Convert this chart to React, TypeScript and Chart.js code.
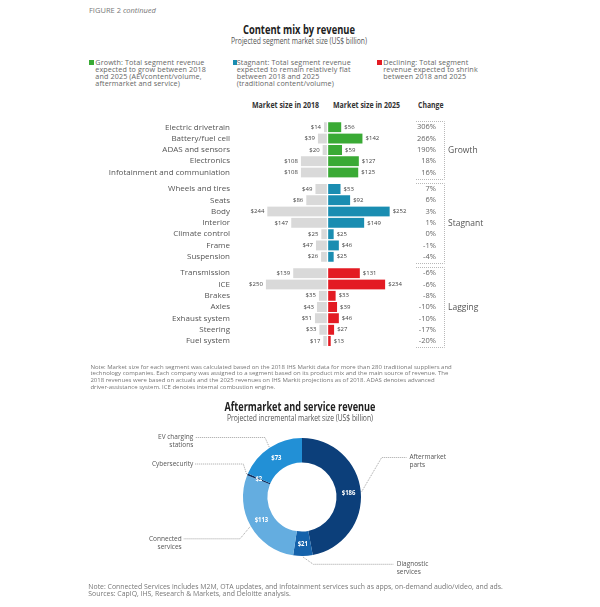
import React, { useEffect, useRef } from "react";
import { Chart, registerables } from "chart.js";
Chart.register(...registerables);

// ---------- DATA ----------
const categories = [
  "Electric drivetrain", "Battery/fuel cell", "ADAS and sensors", "Electronics", "Infotainment and communiation",
  "Wheels and tires", "Seats", "Body", "Interior", "Climate control", "Frame", "Suspension",
  "Transmission", "ICE", "Brakes", "Axles", "Exhaust system", "Steering", "Fuel system",
];
const rowGroup = [0, 0, 0, 0, 0, 1, 1, 1, 1, 1, 1, 1, 2, 2, 2, 2, 2, 2, 2];
const size2018 = [14, 39, 20, 108, 108, 49, 86, 244, 147, 25, 47, 26, 139, 250, 35, 43, 51, 33, 17];
const size2025 = [56, 142, 59, 127, 125, 53, 92, 252, 149, 25, 46, 25, 131, 234, 33, 39, 46, 27, 13];
const changePct = [306, 266, 190, 18, 16, 7, 6, 3, 1, 0, -1, -4, -6, -6, -8, -10, -10, -17, -20];
const groupNames = ["Growth", "Stagnant", "Lagging"];
const groupColors = ["#3aaa35", "#1a8db1", "#e31b23"];
const barGray = "#d9d9d9";

const legendTexts = [
  ["Growth: Total segment revenue", "expected to grow between 2018", "and 2025 (AEVcontent/volume,", "aftermarket and service)"],
  ["Stagnant: Total segment revenue", "expected to remain relatively flat", "between 2018 and 2025", "(traditional content/volume)"],
  ["Declining: Total segment", "revenue expected to shrink", "between 2018 and 2025"],
];
const columnHeaders = ["Market size in 2018", "Market size in 2025", "Change"];

const serviceLabels = [["Aftermarket", "parts"], ["Diagnostic", "services"], ["Connected", "services"], ["Cybersecurity"], ["EV charging", "stations"]];
const serviceValues = [186, 21, 113, 2, 73];
const serviceColors = ["#0c3f7a", "#1462ab", "#64ade0", "#0b2a5c", "#2290d6"];

const note1 = [
  "Note: Market size for each segment was calculated based on the 2018 IHS Markit data for more than 280 traditional suppliers and",
  "technology companies. Each company was assigned to a segment based on its product mix and the main source of revenue. The",
  "2018 revenues were based on actuals and the 2025 revenues on IHS Markit  projections as of 2018. ADAS denotes advanced",
  "driver-assistance system. ICE denotes internal combustion engine.",
];
const note2 = [
  "Note: Connected Services includes M2M, OTA updates, and infotainment services such as apps, on-demand audio/video, and ads.",
  "Sources: CapIQ, IHS, Research & Markets, and Deloitte analysis.",
];

// ---------- LAYOUT ----------
const GROUP_GAP = 0.455;
const rowPos = categories.map((_, i) => i + rowGroup[i] * GROUP_GAP);
const SANS = '"Open Sans", "Noto Sans", sans-serif';

const BAR_TOP = 110;
const BAR_H = 262;
const BAR_PAD_BOTTOM = 3;
const ROW_PX = 11.3;
const Y_MIN = -1.53;
const Y_MAX = Y_MIN + (BAR_H - BAR_PAD_BOTTOM) / ROW_PX;
const LABEL_RIGHT = 230;
const CHANGE_RIGHT = 436;
const BOX_L = 416;
const BOX_R = 444;
const GROUP_X = 448;

const DN_LEFT = 130;
const DN_TOP = 425;
const DN_W = 340;
const DN_H = 160;
const DN_CX = 302;
const DN_CY = 497;
const DN_R = 59;

const callouts = [
  { elbow: [381.7, 457.5], end: 406.7, textX: 409.5, align: "left" },
  { elbow: [313.3, 564.3], end: 393.3, textX: 396.7, align: "left" },
  { elbow: [240, 538.8], end: 183.3, textX: 181.7, align: "right" },
  { elbow: [243.3, 464], end: 195, textX: 193.3, align: "right" },
  { elbow: [265, 437.5], end: 195, textX: 193.3, align: "right" },
];

let measureCtx: CanvasRenderingContext2D | null = null;
function measureText(text: string, font: string) {
  if (!measureCtx) measureCtx = document.createElement("canvas").getContext("2d");
  measureCtx!.font = font;
  return measureCtx!.measureText(text).width;
}

const barLabelsPlugin = {
  id: "barLabels",
  afterDatasetsDraw(chart: any) {
    const ctx = chart.ctx;
    const xs = chart.scales.x;
    const ys = chart.scales.y;
    ctx.save();
    ctx.textBaseline = "middle";
    categories.forEach((cat, i) => {
      const y = ys.getPixelForValue(rowPos[i]);
      ctx.font = `8px ${SANS}`;
      ctx.fillStyle = "#555";
      ctx.textAlign = "right";
      ctx.fillText(cat, LABEL_RIGHT, y);
      ctx.font = `6px ${SANS}`;
      ctx.fillStyle = "#444";
      ctx.fillText("$" + size2018[i], xs.getPixelForValue(-size2018[i]) - 3, y);
      ctx.textAlign = "left";
      ctx.fillText("$" + size2025[i], xs.getPixelForValue(size2025[i]) + 3, y);
      ctx.textAlign = "right";
      ctx.font = `7.5px ${SANS}`;
      ctx.fillStyle = "#666";
      ctx.fillText(changePct[i] + "%", CHANGE_RIGHT, y);
    });
    groupNames.forEach((g, gi) => {
      const idx = rowGroup.map((v, i) => (v === gi ? i : -1)).filter((i) => i >= 0);
      const top = Math.round(ys.getPixelForValue(rowPos[idx[0]]) - 6.3) + 0.5;
      const bottom = Math.round(ys.getPixelForValue(rowPos[idx[idx.length - 1]]) + 6.3) + 0.5;
      ctx.setLineDash([1, 1]);
      ctx.strokeStyle = "#b8b8b8";
      ctx.lineWidth = 1;
      ctx.beginPath();
      ctx.moveTo(BOX_L, top);
      ctx.lineTo(BOX_R + 0.5, top);
      ctx.lineTo(BOX_R + 0.5, bottom);
      ctx.lineTo(BOX_L, bottom);
      ctx.stroke();
      ctx.setLineDash([]);
      ctx.font = `8.5px ${SANS}`;
      ctx.fillStyle = "#555";
      ctx.textAlign = "left";
      ctx.fillText(g, GROUP_X, (top + bottom) / 2);
    });
    ctx.restore();
  },
};

const donutLabelsPlugin = {
  id: "donutLabels",
  afterDatasetsDraw(chart: any) {
    const ctx = chart.ctx;
    const meta = chart.getDatasetMeta(0);
    ctx.save();
    meta.data.forEach((arc: any, i: number) => {
      const p = arc.getProps(["x", "y", "startAngle", "endAngle", "innerRadius", "outerRadius"], true);
      const mid = (p.startAngle + p.endAngle) / 2;
      const rm = (p.innerRadius + p.outerRadius) / 2;
      ctx.font = `bold 7px ${SANS}`;
      ctx.fillStyle = "#fff";
      ctx.textAlign = "center";
      ctx.textBaseline = "middle";
      const label = "$" + serviceValues[i];
      const lx = p.x + Math.cos(mid) * rm;
      const ly = p.y + Math.sin(mid) * rm;
      ctx.save();
      ctx.translate(lx, ly);
      ctx.scale(0.85, 1);
      ctx.fillText(label, 0, 0);
      ctx.restore();
      const c = callouts[i];
      const ax = p.x + Math.cos(mid) * (p.outerRadius + 1);
      const ay = p.y + Math.sin(mid) * (p.outerRadius + 1);
      const ex = c.elbow[0] - DN_LEFT;
      const ey = c.elbow[1] - DN_TOP;
      const endX = c.end - DN_LEFT;
      ctx.strokeStyle = "#8c8c8c";
      ctx.lineWidth = 0.8;
      ctx.setLineDash([1, 1]);
      ctx.beginPath();
      ctx.moveTo(ax, ay);
      ctx.lineTo(ex, ey);
      ctx.lineTo(endX, ey);
      ctx.stroke();
      ctx.setLineDash([]);
      ctx.font = `6.5px ${SANS}`;
      ctx.fillStyle = "#555";
      ctx.textAlign = c.align as CanvasTextAlign;
      serviceLabels[i].forEach((line, k) => {
        ctx.fillText(line, c.textX - DN_LEFT, ey + k * 8);
      });
    });
    ctx.restore();
  },
};

function Txt(props: any) {
  const { x, y, size, children, align = "left", weight = 400, color = "#555", lh = 10, fit } = props;
  const style: any = {
    position: "absolute",
    top: y - lh / 2,
    fontSize: size,
    lineHeight: lh + "px",
    fontFamily: SANS,
    fontWeight: weight,
    color,
    whiteSpace: "nowrap",
  };
  if (align === "left") style.left = x;
  else if (align === "right") style.right = 600 - x;
  else {
    style.left = x - 250;
    style.width = 500;
    style.textAlign = "center";
  }
  if (fit && typeof children === "string") {
    const w = measureText(children, `${weight} ${size}px ${SANS}`);
    if (w > 0) {
      style.transform = `scaleX(${fit / w})`;
      style.transformOrigin = align === "center" ? "50% 50%" : align === "right" ? "100% 50%" : "0% 50%";
    }
  }
  return <div style={style}>{children}</div>;
}

export default function App() {
  const barRef = useRef<HTMLCanvasElement>(null);
  const donutRef = useRef<HTMLCanvasElement>(null);

  useEffect(() => {
    const barChart = new Chart(barRef.current as HTMLCanvasElement, {
      type: "bar",
      data: {
        datasets: [
          {
            label: "Market size in 2018",
            data: size2018.map((v, i) => ({ x: -v, y: rowPos[i] })) as any,
            backgroundColor: barGray,
            borderColor: "#ffffff",
            borderWidth: { top: 0, bottom: 0, left: 0, right: 1 } as any,
            borderSkipped: false,
            grouped: false,
            barThickness: 10,
          },
          {
            label: "Market size in 2025",
            data: size2025.map((v, i) => ({ x: v, y: rowPos[i] })) as any,
            backgroundColor: rowGroup.map((g) => groupColors[g]),
            borderColor: "#ffffff",
            borderWidth: { top: 0, bottom: 0, left: 1, right: 0 } as any,
            borderSkipped: false,
            grouped: false,
            barThickness: 10,
          },
        ],
      },
      options: {
        indexAxis: "y",
        animation: false,
        responsive: false,
        maintainAspectRatio: false,
        layout: { padding: { left: 253.5, right: 198.5, top: 0, bottom: BAR_PAD_BOTTOM } },
        scales: {
          x: { type: "linear", min: -300, max: 300, display: false, offset: false },
          y: { type: "linear", min: Y_MIN, max: Y_MAX, reverse: true, display: false, offset: false },
        },
        plugins: { legend: { display: false }, tooltip: { enabled: false } },
      } as any,
      plugins: [barLabelsPlugin],
    });

    const padL = DN_CX - DN_LEFT - DN_R;
    const padT = DN_CY - DN_TOP - DN_R;
    const donutChart = new Chart(donutRef.current as HTMLCanvasElement, {
      type: "doughnut",
      data: {
        labels: serviceLabels.map((l) => l.join(" ")),
        datasets: [{ data: serviceValues, backgroundColor: serviceColors, borderWidth: 0 }],
      },
      options: {
        animation: false,
        responsive: false,
        maintainAspectRatio: false,
        cutout: "58.5%",
        layout: {
          padding: { left: padL, top: padT, right: DN_W - padL - 2 * DN_R, bottom: DN_H - padT - 2 * DN_R },
        },
        plugins: { legend: { display: false }, tooltip: { enabled: false } },
      } as any,
      plugins: [donutLabelsPlugin],
    });

    return () => {
      barChart.destroy();
      donutChart.destroy();
    };
  }, []);

  const legendX = [[89.3, 95.3], [232.7, 236.7], [377.3, 383.3]];
  const headerX = [251.7, 332.7, 418];
  const headerW = [67, 67, 25.5];

  return (
    <div style={{ position: "fixed", left: 0, top: 0, width: 600, height: 607, background: "#fff", overflow: "hidden" }}>
      <Txt x={89} y={10.4} size={7.5} color="#777">
        FIGURE 2 <i>continued</i>
      </Txt>
      <Txt x={299} y={29} size={13} weight={700} color="#222" lh={16} align="center" fit={112}>
        Content mix by revenue
      </Txt>
      <Txt x={299} y={40.7} size={8.5} color="#555" align="center" fit={136}>
        Projected segment market size (US$ billion)
      </Txt>

      {legendTexts.map((lines, li) => (
        <React.Fragment key={li}>
          <div
            style={{ position: "absolute", left: legendX[li][0], top: 60.3, width: 4.5, height: 4.5, background: groupColors[li] }}
          />
          {lines.map((t, k) => (
            <Txt key={k} x={legendX[li][1]} y={62.4 + k * 7} size={7.2} color="#666" lh={8} fit={undefined}>
              <span style={{ letterSpacing: "0.12px" }}>{t}</span>
            </Txt>
          ))}
        </React.Fragment>
      ))}

      {columnHeaders.map((h, i) => (
        <Txt key={h} x={headerX[i]} y={104.7} size={8.5} weight={700} color="#333" fit={headerW[i]}>
          {h}
        </Txt>
      ))}

      <canvas
        ref={barRef}
        width={600}
        height={BAR_H}
        style={{ position: "absolute", left: 0, top: BAR_TOP, width: 600, height: BAR_H }}
      />

      {note1.map((t, k) => (
        <Txt key={k} x={90.4} y={366.5 + k * 6.8} size={6} color="#777" lh={8}>
          {t}
        </Txt>
      ))}

      <Txt x={299.5} y={405.9} size={13} weight={700} color="#222" lh={16} align="center" fit={151}>
        Aftermarket and service revenue
      </Txt>
      <Txt x={300} y={418} size={8.5} color="#555" align="center" fit={146}>
        Projected incremental market size (US$ billion)
      </Txt>

      <canvas
        ref={donutRef}
        width={DN_W}
        height={DN_H}
        style={{ position: "absolute", left: DN_LEFT, top: DN_TOP, width: DN_W, height: DN_H }}
      />

      {note2.map((t, k) => (
        <Txt key={k} x={88.3} y={586.7 + k * 7.5} size={6.9} color="#777" lh={8}>
          {t}
        </Txt>
      ))}
    </div>
  );
}
